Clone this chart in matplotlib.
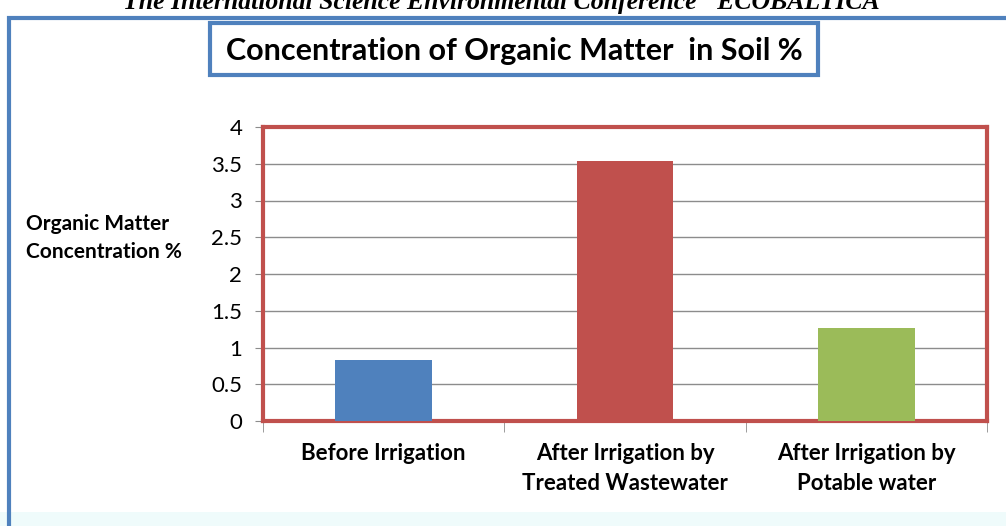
import matplotlib
matplotlib.use("Agg")
from matplotlib import pyplot as plt
from matplotlib.patches import Rectangle

# data
categories = ["Before Irrigation",
              "After Irrigation by\nTreated Wastewater",
              "After Irrigation by\nPotable water"]
values = [0.83, 3.54, 1.26]
bar_colors = ["#4f81bd", "#c0504d", "#9bbb59"]
y_ticks = [0, 0.5, 1, 1.5, 2, 2.5, 3, 3.5, 4]

plt.rcParams['font.family'] = ['Lato', 'DejaVu Sans']

W, H = 1006, 526
fig = plt.figure(figsize=(W / 100, H / 100), dpi=100)
fig.patch.set_facecolor("white")

# light band at the bottom and outer blue frame
fig.add_artist(Rectangle((0, 0), 1, 14 / H, transform=fig.transFigure,
                         facecolor="#effbfb", edgecolor="none", zorder=0))
fig.add_artist(Rectangle((9 / W, -0.05), 1.2, 1 - 18 / H + 0.05,
                         transform=fig.transFigure, facecolor="none",
                         edgecolor="#4f81bd", linewidth=3, zorder=1))

# cut-off header text at the very top
fig.text(0.505, 1 - 9 / H, 'The International Science Environmental Conference "ECOBALTICA"',
         ha="center", va="baseline", fontsize=18.5, fontweight="bold",
         fontstyle="italic", family="Liberation Serif")

# title in its own box
fig.add_artist(Rectangle((210 / W, 1 - 75 / H), 608 / W, 52 / H,
                         transform=fig.transFigure, facecolor="white",
                         edgecolor="#4f81bd", linewidth=3, zorder=2))
fig.text(514 / W, 1 - 51 / H, "Concentration of Organic Matter  in Soil %",
         ha="center", va="center", fontsize=22, fontweight="bold", zorder=3)

ax = fig.add_axes([263 / W, 1 - 421 / H, 724 / W, 294 / H])
x = range(len(values))
ax.bar(x, values, width=0.4, color=bar_colors, zorder=3)

ax.set_xlim(-0.5, 2.5)
ax.set_ylim(0, 4)
ax.set_yticks(y_ticks)
ax.set_yticklabels([f"{t:g}" for t in y_ticks], fontsize=16)
ax.yaxis.grid(True, color="#8c8c8c", linewidth=1, zorder=1)
ax.set_axisbelow(True)

ax.set_xticks(list(x))
ax.set_xticklabels(categories, fontsize=16, fontweight="bold", linespacing=1.5)
ax.set_xticks([-0.5, 0.5, 1.5, 2.5], minor=True)
ax.tick_params(axis="x", which="major", length=0, pad=16)
ax.tick_params(axis="x", which="minor", length=8, color="#8c8c8c", direction="out")
ax.tick_params(axis="y", length=6, color="#8c8c8c", direction="out", pad=9)

for sp in ax.spines.values():
    sp.set_color("#c0504d")
    sp.set_linewidth(3)

fig.text(26 / W, 1 - 238 / H, "Organic Matter\nConcentration %",
         ha="left", va="center", fontsize=15, fontweight="bold", linespacing=1.5)

plt.savefig("out.png", dpi=100)
